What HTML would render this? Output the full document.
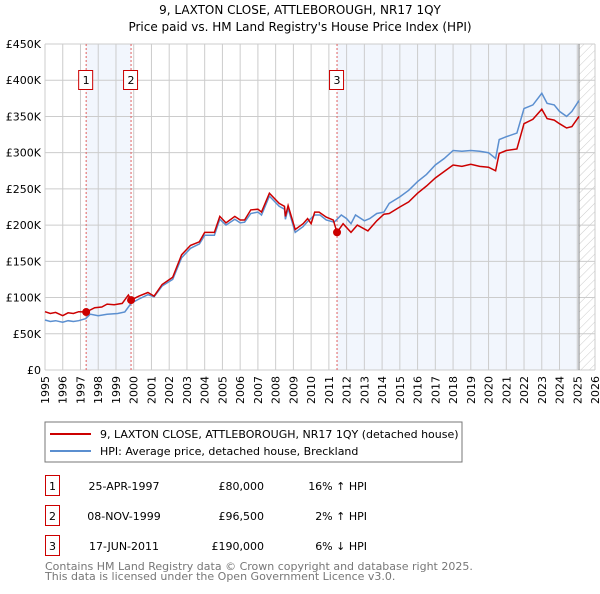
<!DOCTYPE html>
<html><head><meta charset="utf-8"><style>
body{margin:0;background:#fff;font-family:"DejaVu Sans","Liberation Sans",sans-serif;}
svg text{font-family:"DejaVu Sans","Liberation Sans",sans-serif;}
</style></head><body>
<svg id="c" width="600" height="590" xmlns="http://www.w3.org/2000/svg">
<defs><pattern id="hatch" width="6" height="6" patternUnits="userSpaceOnUse" patternTransform="rotate(45)"><line x1="0" y1="0" x2="0" y2="6" stroke="#ccc" stroke-width="1"/></pattern></defs>
<text x="300" y="14" text-anchor="middle" font-size="12">9, LAXTON CLOSE, ATTLEBOROUGH, NR17 1QY</text>
<text x="300" y="31" text-anchor="middle" font-size="12">Price paid vs. HM Land Registry's House Price Index (HPI)</text>
<g id="plot"></g>
<rect x="45" y="422" width="417" height="40" fill="#fff" stroke="#777"/>
<line x1="50" y1="434" x2="91" y2="434" stroke="#cc0000" stroke-width="2"/>
<text x="100" y="438" font-size="11">9, LAXTON CLOSE, ATTLEBOROUGH, NR17 1QY (detached house)</text>
<line x1="50" y1="451" x2="91" y2="451" stroke="#5b8fd0" stroke-width="2"/>
<text x="100" y="455" font-size="11">HPI: Average price, detached house, Breckland</text>
<g font-size="11">
<rect x="45.5" y="475.5" width="14" height="20" fill="none" stroke="#cc0000"/><text x="52.5" y="490" text-anchor="middle">1</text>
<text x="124" y="490" text-anchor="middle">25-APR-1997</text><text x="264" y="490" text-anchor="end">£80,000</text><text x="367" y="490" text-anchor="end">16% ↑ HPI</text>
<rect x="45.5" y="505.5" width="14" height="20" fill="none" stroke="#cc0000"/><text x="52.5" y="520" text-anchor="middle">2</text>
<text x="124" y="520" text-anchor="middle">08-NOV-1999</text><text x="264" y="520" text-anchor="end">£96,500</text><text x="367" y="520" text-anchor="end">2% ↑ HPI</text>
<rect x="45.5" y="535.5" width="14" height="20" fill="none" stroke="#cc0000"/><text x="52.5" y="550" text-anchor="middle">3</text>
<text x="124" y="550" text-anchor="middle">17-JUN-2011</text><text x="264" y="550" text-anchor="end">£190,000</text><text x="367" y="550" text-anchor="end">6% ↓ HPI</text>
</g>
<text x="45" y="570" font-size="11" fill="#777">Contains HM Land Registry data © Crown copyright and database right 2025.</text>
<text x="45" y="580" font-size="11" fill="#777">This data is licensed under the Open Government Licence v3.0.</text>
</svg>
<script>
const hpiYears=[1995,1995.3,1995.6,1996,1996.3,1996.6,1996.9,1997.3,1997.55,1998,1998.5,1999.1,1999.5,1999.85,2000.3,2000.8,2001.15,2001.6,2002.2,2002.7,2003.2,2003.7,2004,2004.55,2004.85,2005.2,2005.7,2006,2006.25,2006.6,2007,2007.2,2007.65,2008.2,2008.5,2008.55,2008.7,2009.1,2009.55,2009.8,2010.2,2010.5,2010.85,2011.3,2011.7,2012,2012.25,2012.5,2013,2013.3,2013.7,2014.1,2014.4,2015,2015.5,2016,2016.5,2017,2017.5,2018,2018.5,2019,2019.5,2020,2020.4,2020.6,2021,2021.6,2022,2022.5,2023,2023.3,2023.7,2024,2024.4,2024.7,2025.1];
const hpiValues=[69,67,68,66,68,67,68,71,77,75,77,78,80,92,98,104,101,116,125,155,168,174,186,186,208,200,208,203,204,216,218,214,240,226,222,208,223,190,198,205,214,214,207,204,214,209,202,214,206,209,216,218,230,239,248,260,270,283,292,303,302,303,302,300,292,318,322,327,361,366,382,368,366,357,350,357,372];
const priceYears=[1995,1995.3,1995.6,1996,1996.3,1996.6,1996.9,1997.32,1997.8,1998.2,1998.5,1998.9,1999.35,1999.7,1999.85,2000.3,2000.8,2001.15,2001.6,2002.2,2002.7,2003.2,2003.7,2004,2004.55,2004.85,2005.2,2005.7,2006,2006.25,2006.6,2007,2007.2,2007.65,2008.2,2008.5,2008.55,2008.7,2009.1,2009.55,2009.8,2010.0,2010.2,2010.45,2010.85,2011.25,2011.46,2011.8,2012.25,2012.6,2013.2,2013.7,2014.1,2014.4,2015,2015.5,2016,2016.5,2017,2017.5,2018,2018.5,2019,2019.5,2020,2020.4,2020.6,2021,2021.6,2022,2022.5,2023,2023.3,2023.7,2024,2024.4,2024.7,2025.1];
const priceValues=[80.5,78,79.5,75,79,78,80.5,80,86,87,91,90,92,103.5,96.5,102,107,102,118,128,159,172,177,190,190,212,203,212,207,207,221,222,218,244,230,226,212,227,194,202,209,202,218,218,211,207,190,202,190,200,192,206,215,216,225,232,244,254,265,274,283,281,284,281,280,275,299,303,305,340,346,360,347,345,340,334,336,350];
const saleYears=[1997.32,1999.85,2011.46];
const saleValues=[80,96.5,190];
const saleLabels=["1","2","3"];
const yTicks=[0,50,100,150,200,250,300,350,400,450];
const yTickLabels=["£0","£50K","£100K","£150K","£200K","£250K","£300K","£350K","£400K","£450K"];
const xTicks=[1995,1996,1997,1998,1999,2000,2001,2002,2003,2004,2005,2006,2007,2008,2009,2010,2011,2012,2013,2014,2015,2016,2017,2018,2019,2020,2021,2022,2023,2024,2025,2026];

const NS="http://www.w3.org/2000/svg";
const L=45,R=595,T=44,B=370,X0=1995,X1=2026,YMAX=450,DATAEND=2025.1;
const sx=v=>L+(v-X0)/(X1-X0)*(R-L);
const sy=v=>B-v/YMAX*(B-T);
const g=document.getElementById('plot');
function mk(tag,attrs){const e=document.createElementNS(NS,tag);for(const k in attrs)e.setAttribute(k,attrs[k]);g.appendChild(e);return e;}
let e;
e=mk('rect',{x:sx(saleYears[0]),y:T,width:sx(saleYears[1])-sx(saleYears[0]),height:B-T,fill:'#f2f6fd'});


e=mk('rect',{x:sx(saleYears[2]),y:T,width:sx(DATAEND)-sx(saleYears[2]),height:B-T,fill:'#f2f6fd'});


e=mk('rect',{x:sx(DATAEND),y:T,width:R-sx(DATAEND),height:B-T,fill:'url(#hatch)'});


yTicks.forEach((v,i)=>{
  e=mk('line',{x1:L,x2:R,y1:sy(v),y2:sy(v),stroke:'#ccc','stroke-width':1});
  
  
  e=mk('text',{x:L-4,y:sy(v)+4,'text-anchor':'end','font-size':11});
  e.textContent=yTickLabels[i];
  
  
});
xTicks.forEach(v=>{
  e=mk('line',{x1:sx(v),x2:sx(v),y1:T,y2:B,stroke:'#ccc','stroke-width':1});
  
  
  e=mk('text',{x:sx(v)+4,y:B+6,'text-anchor':'end','font-size':11,transform:`rotate(-90 ${sx(v)+4} ${B+6})`});
  e.textContent=String(v);
  
  
});
e=mk('line',{x1:sx(DATAEND),x2:sx(DATAEND),y1:T,y2:B,stroke:'#888','stroke-width':1});


saleYears.forEach((v,i)=>{
  e=mk('line',{x1:sx(v),x2:sx(v),y1:T,y2:B,stroke:'#e06060','stroke-width':1,'stroke-dasharray':'2,2'});
  
  
  e=mk('rect',{x:sx(v)-7.5,y:70.5,width:14,height:19,fill:'#fff',stroke:'#cc0000'});
  
  
  e=mk('text',{x:sx(v),y:84,'text-anchor':'middle','font-size':11});
  e.textContent=saleLabels[i];
  
  
});
e=mk('path',{d:hpiYears.map((x,i)=>(i?'L':'M')+sx(x).toFixed(1)+','+sy(hpiValues[i]).toFixed(1)).join(''),fill:'none',stroke:'#5b8fd0','stroke-width':1.5});


e=mk('path',{d:priceYears.map((x,i)=>(i?'L':'M')+sx(x).toFixed(1)+','+sy(priceValues[i]).toFixed(1)).join(''),fill:'none',stroke:'#cc0000','stroke-width':1.5});


saleYears.forEach((v,i)=>{
  e=mk('circle',{cx:sx(v),cy:sy(saleValues[i]),r:4,fill:'#cc0000'});
  
  
});
</script>
</body></html>
